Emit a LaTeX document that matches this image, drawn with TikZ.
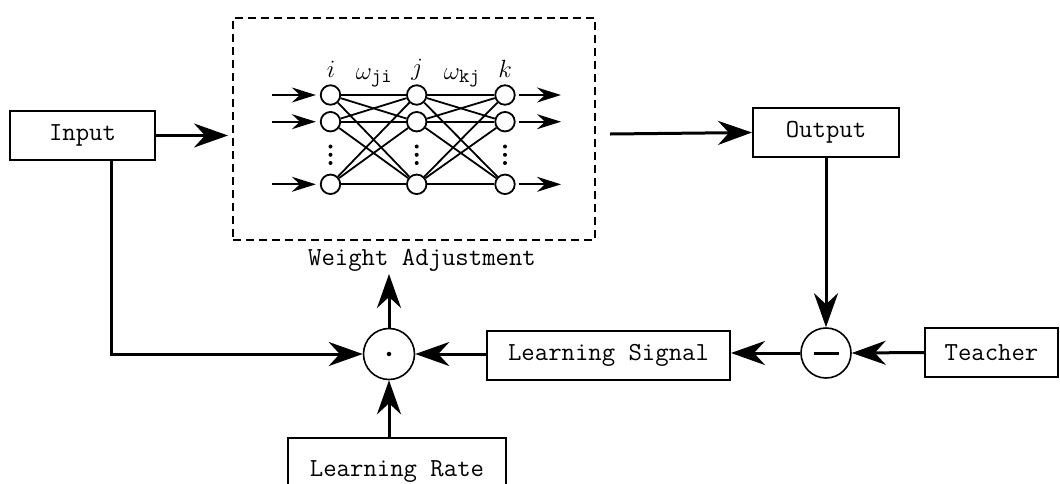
\documentclass[tikz,border=0pt]{standalone}
\usepackage{fontspec}
\usetikzlibrary{arrows.meta}
\tikzset{
  txt/.style={font=\ttfamily\fontsize{26}{29}\selectfont},
  box/.style={draw, line width=2pt, rectangle, inner sep=0pt, txt, minimum height=49pt},
  big/.style={line width=3pt, -{Stealth[length=34pt,width=24pt,inset=11pt]}},
  small/.style={line width=2pt, -{Stealth[length=24pt,width=15pt,inset=8pt]}},
  neuron/.style={draw, circle, line width=1.8pt, minimum size=19.5pt, inner sep=0pt},
  wire/.style={line width=1.8pt},
  op/.style={draw, circle, line width=1.6pt, minimum size=51pt, inner sep=0pt},
  lbl/.style={font=\fontsize{26}{29}\selectfont, inner sep=0pt},
  dotmark/.style={fill, circle, inner sep=0pt, minimum size=4.5pt}
}
\begin{document}
\begin{tikzpicture}[x=1pt,y=-1pt]
\clip (0,0) rectangle (1060,483);
\fill[white] (0,0) rectangle (1060,483);

% main blocks
\node[box, minimum width=145pt] (in) at (82.5,135.5) {Input};
\node[box, minimum width=146pt] (out) at (826,132.5) {Output};
\node[box, minimum width=243pt] (ls) at (608.5,355.5) {Learning Signal};
\node[box, minimum width=133pt] (teach) at (991.5,352.5) {Teacher};
\node[box, minimum width=218pt, minimum height=68pt] (lr) at (397,472) {Learning Rate};
\node[op] (dot) at (389,354) {};
\node[dotmark] (dotc) at (dot) {};
\node[op, minimum size=50pt] (minus) at (826,353) {};
\draw[line width=3pt] ([xshift=-12.5pt]minus.center) -- ([xshift=12.5pt]minus.center);

% network box
\node[draw, dashed, dash pattern=on 8pt off 5pt, line width=2pt, minimum width=362pt, minimum height=222pt, inner sep=0pt] (net) at (414,129) {};
\node[txt, inner sep=0pt] (wa) at (422,260) {Weight Adjustment};

% neurons
\foreach \c/\x in {i/330.5, j/416.7, k/505} {
  \node[neuron] (\c1) at (\x,95) {};
  \node[neuron] (\c2) at (\x,121.7) {};
  \node[neuron] (\c3) at (\x,184.3) {};
  \node[dotmark, minimum size=4pt] (\c d1) at (\x,146.5) {};
  \node[dotmark, minimum size=4pt] (\c d2) at (\x,154.8) {};
  \node[dotmark, minimum size=4pt] (\c d3) at (\x,163) {};
}
\foreach \a in {1,2,3} {
  \foreach \b in {1,2,3} {
    \draw[wire] (i\a) -- (j\b);
    \draw[wire] (j\a) -- (k\b);
  }
}
\node[lbl] (li) at (331,69) {$i$};
\node[lbl] (lj) at (417,70) {$j$};
\node[lbl] (lk) at (505,69) {$k$};
\node[lbl] (wji) at (374,78) {$\omega_{\mbox{\ttfamily\fontsize{20}{22}\selectfont ji}}$};
\node[lbl] (wkj) at (462,78) {$\omega_{\mbox{\ttfamily\fontsize{20}{22}\selectfont kj}}$};

% network in/out arrows
\foreach \r in {1,2,3} {
  \coordinate (ia\r) at (272,0 |- i\r);
  \draw[small, shorten >=4pt] (ia\r) -- (i\r.west);
  \coordinate (oa\r) at (561,0 |- k\r);
  \draw[small, shorten <=3pt] (k\r.east) -- (oa\r);
}

% connectors
\coordinate (netin) at (228,135.5);
\draw[big] (in.east) -- (netin);
\coordinate (netout) at (610,134);
\draw[big] (netout) -- (out.west);
\draw[big] (out.south) -- (minus.north);
\draw[big] (teach.west) -- (minus.east);
\draw[big] (minus.west) -- (ls.east |- minus.west);
\draw[big] (ls.west |- dot.east) -- (dot.east);
\coordinate (inl) at (111,160);
\draw[big] (inl) |- (dot.west);
\draw[big] (lr.north -| dot.south) -- (dot.south);
\coordinate (watip) at (389,274);
\draw[big] (dot.north) -- (watip);
\end{tikzpicture}
\end{document}
